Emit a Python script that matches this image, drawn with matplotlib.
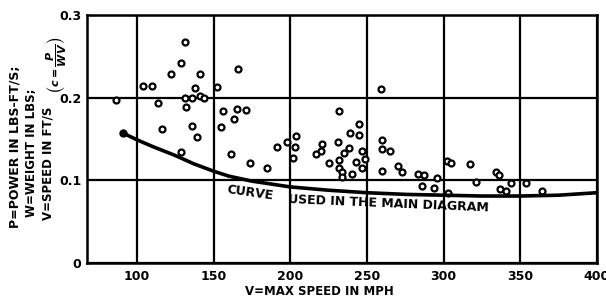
import numpy as np
import matplotlib
matplotlib.use("Agg")
from matplotlib import pyplot as plt

# scatter of aircraft: max speed (mph) vs c = P/WV
speed = [86, 104, 110, 114, 122, 129, 131, 141, 138, 131, 136, 141, 144, 132,
         152, 166, 156, 165, 171, 163, 155, 116, 136, 139, 129, 161, 174, 185,
         191, 198, 203, 202, 204, 259, 232, 245, 239, 245, 231, 221, 220, 217,
         238, 235, 247, 249, 232, 225, 243, 247, 232, 234, 234, 240, 260, 260,
         265, 260, 270, 273, 283, 287, 286, 294, 296, 302, 305, 303, 317, 321,
         334, 336, 344, 337, 341, 354, 364]
coef = [0.197, 0.214, 0.214, 0.193, 0.229, 0.242, 0.267, 0.229, 0.212, 0.200,
        0.200, 0.202, 0.200, 0.189, 0.213, 0.235, 0.184, 0.186, 0.185, 0.174,
        0.164, 0.162, 0.166, 0.152, 0.134, 0.132, 0.121, 0.115, 0.140, 0.146,
        0.140, 0.127, 0.154, 0.210, 0.184, 0.168, 0.157, 0.155, 0.146, 0.144,
        0.135, 0.132, 0.139, 0.133, 0.135, 0.126, 0.125, 0.121, 0.122, 0.115,
        0.115, 0.110, 0.104, 0.108, 0.149, 0.138, 0.135, 0.111, 0.117, 0.110,
        0.108, 0.106, 0.093, 0.091, 0.103, 0.123, 0.121, 0.085, 0.120, 0.098,
        0.110, 0.106, 0.097, 0.089, 0.087, 0.097, 0.087]

# curve used in the main diagram
curve_v = [91, 100, 110, 125, 137, 150, 160, 175, 200, 225, 250, 275, 300,
           325, 350, 375, 400]
curve_c = [0.157, 0.149, 0.141, 0.130, 0.120, 0.111, 0.105, 0.099, 0.092,
           0.088, 0.085, 0.083, 0.082, 0.081, 0.081, 0.082, 0.085]

x_ticks = [100, 150, 200, 250, 300, 350, 400]
y_ticks = [0, 0.1, 0.2, 0.3]
y_tick_labels = ["0", "0.1", "0.2", "0.3"]

plt.rcParams["font.family"] = ["DejaVu Sans"]
plt.rcParams["font.weight"] = "bold"

fig = plt.figure(figsize=(6.06, 2.99), dpi=100)
ax = fig.add_axes([0.1436, 0.1204, 0.8414, 0.8296])

ax.plot(speed, coef, "o", ms=4.3, mfc="white", mec="black", mew=1.6, zorder=3)
ax.plot(curve_v, curve_c, "-", color="black", lw=2.6, zorder=4)
ax.plot(curve_v[0], curve_c[0], "o", color="black", ms=5, zorder=4)

ax.set_xlim(67.4, 400)
ax.set_ylim(0, 0.3)
ax.set_xticks(x_ticks)
ax.set_yticks(y_ticks)
ax.set_yticklabels(y_tick_labels)
ax.tick_params(length=0, labelsize=9, pad=4)
ax.tick_params(axis="x", pad=5)
for lab in ax.get_xticklabels() + ax.get_yticklabels():
    lab.set_fontweight("bold")
ax.grid(True, color="black", lw=1.6)
for s in ax.spines.values():
    s.set_linewidth(1.8)

# label follows the curve: first word steeper than the rest
ax.text(158.5, 0.0885, "CURVE", fontsize=9, fontweight="bold", rotation=-8,
        rotation_mode="anchor", ha="left", va="center", zorder=5)
ax.text(198.5, 0.0772, "USED IN THE MAIN DIAGRAM", fontsize=9,
        fontweight="bold", rotation=-2.4, rotation_mode="anchor",
        ha="left", va="center", zorder=5)

fig.text(0.527, 0.004, "V=MAX SPEED IN MPH", fontsize=8.5, fontweight="bold",
         ha="center", va="bottom")

fig.text(0.025, 0.237, "P=POWER IN LBS-FT/S;", rotation=90, fontsize=9,
         fontweight="bold", ha="center", va="bottom")
fig.text(0.052, 0.274, "W=WEIGHT IN LBS;", rotation=90, fontsize=8.5,
         fontweight="bold", ha="center", va="bottom")
fig.text(0.08, 0.264, "V=SPEED IN FT/S", rotation=90, fontsize=8.5,
         fontweight="bold", ha="center", va="bottom")
fig.text(0.092, 0.69, r"$\left(c=\dfrac{P}{WV}\right)$", rotation=90,
         fontsize=8, ha="center", va="bottom")

fig.savefig("out.png", dpi=100)
